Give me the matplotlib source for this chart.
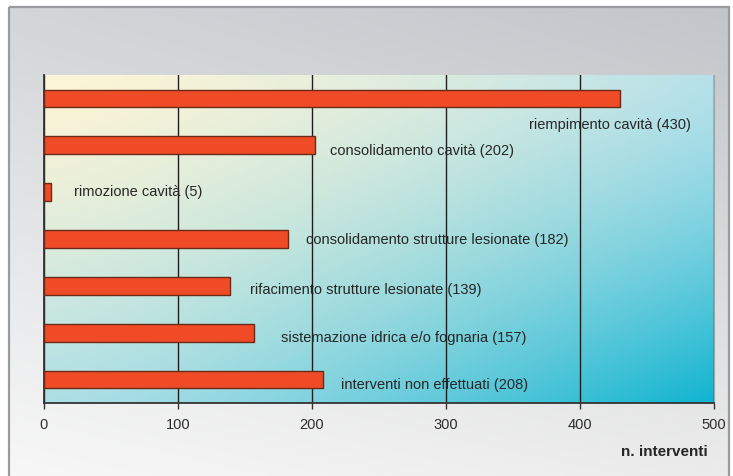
import numpy as np
import matplotlib
matplotlib.use("Agg")
import matplotlib.pyplot as plt
from matplotlib.patches import Rectangle

# interventions by type
categories = [
    "riempimento cavità",
    "consolidamento cavità",
    "rimozione cavità",
    "consolidamento strutture lesionate",
    "rifacimento strutture lesionate",
    "sistemazione idrica e/o fognaria",
    "interventi non effettuati",
]
counts = [430, 202, 5, 182, 139, 157, 208]
x_ticks = [0, 100, 200, 300, 400, 500]
x_label = "n. interventi"

# label offsets from the bar end, in points (dx, dy)
label_offsets = [(-66, -19), (11, -4), (17, 0), (13, -1), (14, -3), (19, -4), (13, -4)]

plt.rcParams["font.family"] = ["Liberation Sans", "DejaVu Sans"]

W, H = 733, 476
fig = plt.figure(figsize=(W / 100, H / 100), dpi=100)
fig.patch.set_facecolor("white")


def bilinear(tl, tr, bl, br, nx=200, ny=200, gamma=1.0):
    tl, tr, bl, br = [np.array(matplotlib.colors.to_rgb(c)) for c in (tl, tr, bl, br)]
    u = np.linspace(0, 1, nx)[None, :, None] ** gamma
    v = np.linspace(0, 1, ny)[:, None, None] ** gamma
    top = tl * (1 - u) + tr * u
    bot = bl * (1 - u) + br * u
    return top * (1 - v) + bot * v


# grey panel behind the chart
fl, ft, fr = 9, 7, 729
bg = fig.add_axes([0, 0, 1, 1], zorder=0)
bg.set_xlim(0, W)
bg.set_ylim(H, 0)
bg.axis("off")
bg.imshow(bilinear("#d3d6d9", "#c2c5c9", "#f8f8f8", "#ececec"),
          extent=(fl, fr, H + 10, ft), aspect="auto", interpolation="bicubic")
bg.add_patch(Rectangle((fl, ft), fr - fl, H + 20, fill=False,
                       edgecolor="#999b9e", linewidth=1.6))

# plot area
left, top, right, bottom = 44, 75, 714, 403
ax = fig.add_axes([left / W, 1 - bottom / H, (right - left) / W, (bottom - top) / H], zorder=1)
ax.imshow(bilinear("#fdf5d6", "#b6e1ea", "#acdfe6", "#10b4d0", gamma=1.35),
          extent=(0, 500, len(categories) - 0.5, -0.5), aspect="auto",
          interpolation="bicubic", zorder=0)

ypos = np.arange(len(categories))
ax.barh(ypos, counts, height=0.38, color="#ef4b26", edgecolor="#6b2a18",
        linewidth=1.0, zorder=3)

for y, name, val, (dx, dy) in zip(ypos, categories, counts, label_offsets):
    ax.annotate(f"{name} ({val})", xy=(val, y), xytext=(dx, dy),
                textcoords="offset points", ha="left", va="center",
                fontsize=10.5, color="#262626", zorder=4)

ax.set_xlim(0, 500)
ax.set_ylim(len(categories) - 0.5, -0.5)
ax.set_xticks(x_ticks)
ax.set_yticks([])
ax.xaxis.grid(True, color="#1e1e1e", linewidth=1.0)
for line in ax.get_xgridlines():
    line.set_zorder(2)

ax.tick_params(axis="x", direction="out", length=4, width=1, color="#333333",
               labelsize=10.5, labelcolor="#2e2e2e", pad=7)
ax.spines["top"].set_visible(False)
ax.spines["right"].set_color("#9aa7ab")
ax.spines["bottom"].set_color("#333333")
ax.spines["bottom"].set_linewidth(1.3)
ax.spines["left"].set_color("#333333")
ax.spines["left"].set_linewidth(1.3)

fig.text(708 / W, 1 - 452 / H, x_label, ha="right", va="center",
         fontsize=11, fontweight="bold", color="#262626")

fig.savefig("out.png", dpi=100)
